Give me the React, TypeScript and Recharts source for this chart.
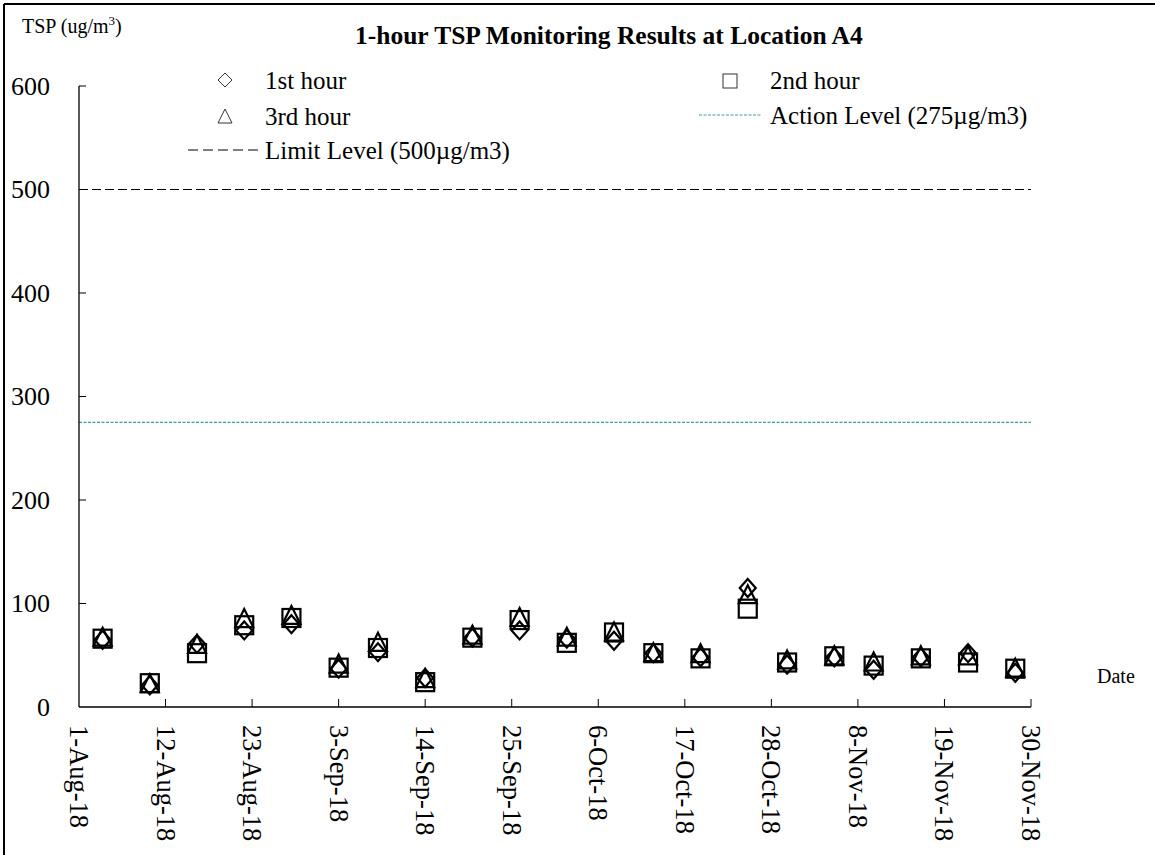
import React from 'react';
import { ScatterChart, Scatter, XAxis, YAxis, ReferenceLine } from 'recharts';

// ---- data ----
const sampleDates = [
  '2018-08-04', '2018-08-10', '2018-08-16', '2018-08-22', '2018-08-28',
  '2018-09-03', '2018-09-08', '2018-09-14', '2018-09-20', '2018-09-26',
  '2018-10-02', '2018-10-08', '2018-10-13', '2018-10-19', '2018-10-25',
  '2018-10-30', '2018-11-05', '2018-11-10', '2018-11-16', '2018-11-22',
  '2018-11-28',
];
const hour1 = [65, 21, 61, 74, 80, 37, 53, 28, 67, 74, 66, 64, 52, 48, 115, 41, 48, 36, 48, 52, 33];
const hour2 = [66, 23, 52, 79, 86, 38, 57, 24, 67, 84, 62, 72, 52, 47, 95, 43, 49, 40, 47, 43, 37];
const hour3 = [67, 22, 60, 85, 88, 41, 62, 27, 69, 86, 67, 72, 52, 51, 108, 45, 49, 43, 49, 49, 37];

const xTickLabels = [
  '1-Aug-18', '12-Aug-18', '23-Aug-18', '3-Sep-18', '14-Sep-18', '25-Sep-18',
  '6-Oct-18', '17-Oct-18', '28-Oct-18', '8-Nov-18', '19-Nov-18', '30-Nov-18',
];
const xTickDays = [0, 11, 22, 33, 44, 55, 66, 77, 88, 99, 110, 121];
const yTicks = [0, 100, 200, 300, 400, 500, 600];
const ACTION_LEVEL = 275;
const LIMIT_LEVEL = 500;

const START = Date.parse('2018-08-01');
const dayOf = (s: string) => (Date.parse(s) - START) / 86400000;
const toSeries = (vals: number[]) => sampleDates.map((d, i) => ({ day: dayOf(d), v: vals[i] }));
const data1 = toSeries(hour1);
const data2 = toSeries(hour2);
const data3 = toSeries(hour3);

const FONT = '"Liberation Serif", "Times New Roman", serif';
const TEAL = '#3a9e9e';

const Diamond = (p: any) => {
  const { cx, cy } = p;
  return <polygon points={`${cx},${cy - 9} ${cx + 8},${cy} ${cx},${cy + 9} ${cx - 8},${cy}`} fill="none" stroke="#000" strokeWidth={2.2} />;
};
const Square = (p: any) => {
  const { cx, cy } = p;
  return <rect x={cx - 9} y={cy - 9} width={18} height={18} fill="none" stroke="#000" strokeWidth={2.2} />;
};
const Triangle = (p: any) => {
  const { cx, cy } = p;
  return <polygon points={`${cx},${cy - 10} ${cx + 9},${cy + 8} ${cx - 9},${cy + 8}`} fill="none" stroke="#000" strokeWidth={2.2} strokeLinejoin="miter" />;
};

const XTick = (p: any) => {
  const { x, y, payload } = p;
  const idx = xTickDays.indexOf(payload.value);
  const label = idx >= 0 ? xTickLabels[idx] : '';
  return (
    <g>
      {payload.value !== 0 && <line x1={x} y1={y} x2={x} y2={y - 8} stroke="#000" strokeWidth={1} />}
      <text
        transform={`translate(${x},${y + 18}) rotate(90)`}
        textAnchor="start"
        dominantBaseline="central"
        fontSize={26.5}
        fontFamily={FONT}
        fill="#000"
      >
        {label}
      </text>
    </g>
  );
};

const YTick = (p: any) => {
  const { x, y, payload } = p;
  return (
    <g>
      {payload.value !== 0 && <line x1={x} y1={y} x2={x + 7} y2={y} stroke="#000" strokeWidth={1} />}
      <text x={x - 29} y={y} textAnchor="end" dominantBaseline="central" fontSize={26} fontFamily={FONT} fill="#000">
        {payload.value}
      </text>
    </g>
  );
};

export default function App() {
  return (
    <div style={{ position: 'absolute', left: 0, top: 0, width: 1155, height: 855, background: '#fff', overflow: 'hidden' }}>
      <ScatterChart width={1155} height={855} margin={{ top: 86, right: 124, bottom: 118, left: 19 }}>
        <XAxis
          type="number"
          dataKey="day"
          domain={[0, 121]}
          ticks={xTickDays}
          interval={0}
          height={30}
          tickSize={0}
          tickMargin={0}
          tickLine={false}
          tick={<XTick />}
          axisLine={{ stroke: '#000', strokeWidth: 1.3 }}
          allowDecimals={false}
        />
        <YAxis
          type="number"
          dataKey="v"
          domain={[0, 600]}
          ticks={yTicks}
          interval={0}
          width={60}
          tickSize={0}
          tickMargin={0}
          tickLine={false}
          tick={<YTick />}
          axisLine={{ stroke: '#000', strokeWidth: 1.3 }}
        />
        <ReferenceLine y={LIMIT_LEVEL} stroke="#000" strokeWidth={1} strokeDasharray="9 4" ifOverflow="extendDomain" />
        <ReferenceLine y={ACTION_LEVEL} stroke={TEAL} strokeWidth={1.2} strokeDasharray="3 1.5" ifOverflow="extendDomain" />
        <Scatter name="1st hour" data={data1} shape={<Diamond />} isAnimationActive={false} />
        <Scatter name="2nd hour" data={data2} shape={<Square />} isAnimationActive={false} />
        <Scatter name="3rd hour" data={data3} shape={<Triangle />} isAnimationActive={false} />
      </ScatterChart>

      <svg width={1155} height={855} style={{ position: 'absolute', left: 0, top: 0, pointerEvents: 'none' }}>
        {/* frame */}
        <line x1={4} y1={4} x2={1155} y2={4} stroke="#000" strokeWidth={2} />
        <line x1={4} y1={4} x2={4} y2={855} stroke="#000" strokeWidth={2} />
        {/* unit */}
        <text x={22} y={33} fontSize={20} fontFamily={FONT} fill="#000">
          TSP (ug/m<tspan dy={-8} fontSize={13}>3</tspan><tspan dy={8}>)</tspan>
        </text>
        {/* title */}
        <text x={355} y={44} fontSize={25.5} fontWeight="bold" fontFamily={FONT} fill="#000">
          1-hour TSP Monitoring Results at Location A4
        </text>
        {/* legend */}
        <polygon points="225,73 232,80 225,87 218,80" fill="none" stroke="#333" strokeWidth={1} />
        <text x={265} y={80} dominantBaseline="central" fontSize={25} fontFamily={FONT} fill="#000">1st hour</text>
        <rect x={723} y={74} width={14} height={14} fill="none" stroke="#333" strokeWidth={1} />
        <text x={770} y={80} dominantBaseline="central" fontSize={25} fontFamily={FONT} fill="#000">2nd hour</text>
        <polygon points="225,109 232,123 218,123" fill="none" stroke="#333" strokeWidth={1} />
        <text x={265} y={116} dominantBaseline="central" fontSize={25} fontFamily={FONT} fill="#000">3rd hour</text>
        <line x1={699} y1={115} x2={761} y2={115} stroke={TEAL} strokeWidth={1.2} strokeDasharray="3 1.5" />
        <text x={770} y={115} dominantBaseline="central" fontSize={25} fontFamily={FONT} fill="#000">Action Level (275µg/m3)</text>
        <line x1={188} y1={150} x2={262} y2={150} stroke="#000" strokeWidth={1} strokeDasharray="10 5" />
        <text x={265} y={150} dominantBaseline="central" fontSize={25} fontFamily={FONT} fill="#000">Limit Level (500µg/m3)</text>
        {/* x axis title */}
        <text x={1097} y={676} dominantBaseline="central" fontSize={20} fontFamily={FONT} fill="#000">Date</text>
      </svg>
    </div>
  );
}
